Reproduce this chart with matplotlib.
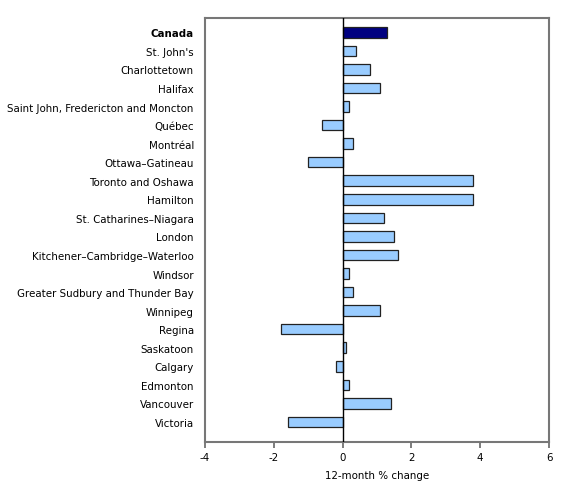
import matplotlib.pyplot as plt
import numpy as np

cities = ["Canada", "St. John's", "Charlottetown", "Halifax",
          "Saint John, Fredericton and Moncton", "Québec", "Montréal",
          "Ottawa–Gatineau", "Toronto and Oshawa", "Hamilton",
          "St. Catharines–Niagara", "London", "Kitchener–Cambridge–Waterloo",
          "Windsor", "Greater Sudbury and Thunder Bay", "Winnipeg", "Regina",
          "Saskatoon", "Calgary", "Edmonton", "Vancouver", "Victoria"]
change = [1.3, 0.4, 0.8, 1.1, 0.2, -0.6, 0.3, -1.0, 3.8, 3.8, 1.2, 1.5,
          1.6, 0.2, 0.3, 1.1, -1.8, 0.1, -0.2, 0.2, 1.4, -1.6]
xticks = [-4, -2, 0, 2, 4, 6]

plt.rcParams['font.family'] = ['DejaVu Sans']
fig = plt.figure(figsize=(5.8, 4.85), dpi=100)
ax = fig.add_axes([0.3534, 0.0866, 0.5932, 0.8742])

y = np.arange(len(cities))
colors = ['#000080'] + ['#99ccff'] * (len(cities) - 1)
ax.barh(y, change, height=0.57, color=colors, edgecolor='#222222', linewidth=0.9, zorder=2)
ax.axvline(0, color='black', linewidth=1, zorder=3)

ax.set_ylim(len(cities) - 1 + 1.08, -0.77)
ax.set_xlim(-4, 6)
ax.set_xticks(xticks)
ax.set_xticklabels([str(t) for t in xticks], fontsize=7.4)
ax.set_yticks(y)
ax.set_yticklabels(cities, fontsize=7.4)
ax.get_yticklabels()[0].set_fontweight('bold')
ax.tick_params(axis='y', length=0, pad=8)
ax.tick_params(axis='x', length=4, width=1.2, color='#666666', pad=3, direction='out')
ax.set_xlabel('12-month % change', fontsize=7.4, labelpad=6)

for s in ax.spines.values():
    s.set_color('#777777')
    s.set_linewidth(1.5)

fig.savefig('out.png', dpi=100)
